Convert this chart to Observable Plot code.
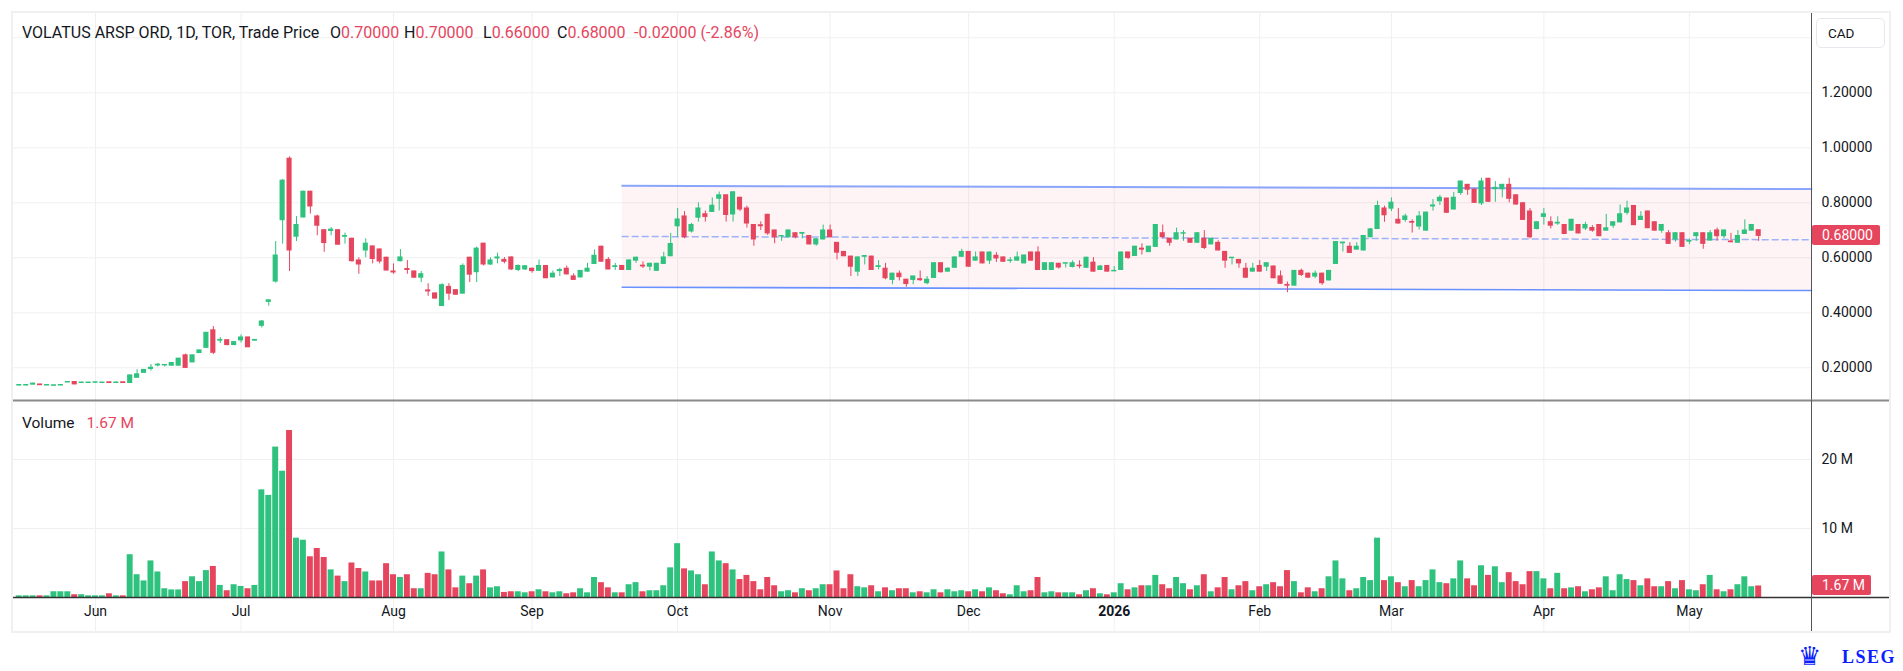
<!DOCTYPE html>
<html>
<head>
<meta charset="utf-8">
<script src="https://cdn.jsdelivr.net/npm/d3@7"></script>
<script src="https://cdn.jsdelivr.net/npm/@observablehq/plot@0.6"></script>
<style>
  html, body { margin: 0; padding: 0; background: #fff; }
  #wrap { position: relative; width: 1903px; height: 671px; overflow: hidden; font-family: Roboto, "Noto Sans", sans-serif; color: #131722; }
  .abs { position: absolute; white-space: pre; font-size: 14px; line-height: 18px; }
  .red { color: #e6455e; }
  #frame { position: absolute; left: 11px; top: 11px; width: 1876px; height: 618px; border: 2px solid #f0f0f0; pointer-events: none; z-index: 3; }
  .lbl { position: absolute; height: 20px; line-height: 20px; background: #e6455e; color: #fff; font-size: 14px; padding-left: 10px; box-sizing: border-box; border-radius: 2px; z-index: 4; }
  #cad { position: absolute; left: 1816px; top: 18px; width: 69px; height: 30px; border: 1px solid #e6e8ee; border-radius: 5px; box-sizing: border-box; z-index: 4; }
  svg { max-width: none !important; }
</style>
</head>
<body>
<div id="wrap"></div>
<script>
// ---------- data ----------
const openP = [
0.136,0.136,0.139,0.139,0.136,0.135,0.136,0.147,0.148,0.145,
0.145,0.146,0.145,0.147,0.145,0.147,0.145,0.164,0.182,0.196,
0.209,0.209,0.208,0.208,0.245,0.220,0.254,0.273,0.336,0.299,
0.300,0.283,0.300,0.310,0.299,0.353,0.440,0.514,0.737,0.960,
0.677,0.747,0.840,0.750,0.700,0.698,0.700,0.677,0.669,0.590,
0.627,0.641,0.630,0.600,0.550,0.588,0.559,0.550,0.528,0.481,
0.470,0.425,0.494,0.482,0.470,0.600,0.548,0.651,0.576,0.598,
0.592,0.601,0.556,0.558,0.560,0.553,0.570,0.529,0.552,0.560,
0.532,0.529,0.550,0.578,0.640,0.592,0.567,0.570,0.556,0.590,
0.571,0.568,0.553,0.578,0.606,0.715,0.750,0.696,0.746,0.758,
0.767,0.815,0.827,0.758,0.818,0.779,0.719,0.718,0.756,0.699,
0.678,0.675,0.689,0.688,0.679,0.649,0.667,0.699,0.654,0.621,
0.604,0.550,0.604,0.604,0.567,0.560,0.520,0.542,0.520,0.520,
0.522,0.508,0.527,0.580,0.550,0.564,0.604,0.621,0.590,0.619,
0.590,0.607,0.601,0.589,0.590,0.580,0.619,0.619,0.556,0.556,
0.578,0.579,0.567,0.571,0.564,0.582,0.556,0.570,0.551,0.556,
0.619,0.607,0.633,0.621,0.640,0.689,0.669,0.667,0.688,0.669,
0.655,0.669,0.649,0.654,0.621,0.599,0.592,0.560,0.550,0.570,
0.568,0.568,0.532,0.501,0.499,0.552,0.542,0.532,0.542,0.518,
0.578,0.653,0.640,0.630,0.627,0.675,0.705,0.779,0.779,0.738,
0.738,0.730,0.714,0.699,0.787,0.806,0.815,0.776,0.836,0.865,
0.848,0.798,0.887,0.850,0.850,0.865,0.827,0.798,0.768,0.705,
0.749,0.729,0.725,0.719,0.699,0.719,0.707,0.708,0.719,0.699,
0.717,0.729,0.764,0.788,0.738,0.768,0.729,0.699,0.689,0.667,
0.689,0.659,0.679,0.689,0.663,0.699,0.679,0.659,0.655,0.687,
0.699,0.700];
const highP = [
0.138,0.138,0.145,0.140,0.138,0.137,0.138,0.149,0.149,0.148,
0.147,0.147,0.147,0.148,0.149,0.148,0.173,0.193,0.193,0.212,
0.216,0.212,0.218,0.234,0.250,0.246,0.264,0.328,0.350,0.310,
0.302,0.294,0.320,0.312,0.302,0.372,0.447,0.659,0.885,0.967,
0.750,0.842,0.842,0.755,0.702,0.710,0.702,0.690,0.671,0.600,
0.669,0.643,0.632,0.602,0.578,0.630,0.590,0.552,0.550,0.506,
0.472,0.506,0.506,0.484,0.578,0.602,0.639,0.653,0.600,0.617,
0.601,0.603,0.574,0.572,0.562,0.592,0.572,0.552,0.562,0.570,
0.542,0.554,0.580,0.628,0.642,0.601,0.580,0.572,0.592,0.602,
0.585,0.580,0.580,0.620,0.689,0.779,0.768,0.725,0.800,0.770,
0.818,0.839,0.829,0.840,0.820,0.788,0.721,0.731,0.758,0.701,
0.680,0.701,0.691,0.690,0.681,0.669,0.719,0.719,0.656,0.623,
0.606,0.603,0.608,0.606,0.590,0.580,0.544,0.552,0.522,0.532,
0.552,0.532,0.582,0.582,0.564,0.603,0.631,0.623,0.621,0.621,
0.621,0.619,0.603,0.601,0.621,0.610,0.621,0.640,0.582,0.582,
0.580,0.581,0.589,0.589,0.602,0.601,0.572,0.572,0.568,0.621,
0.621,0.642,0.651,0.642,0.721,0.719,0.671,0.708,0.699,0.671,
0.691,0.699,0.671,0.662,0.623,0.601,0.594,0.580,0.580,0.590,
0.582,0.570,0.552,0.512,0.554,0.559,0.544,0.552,0.544,0.554,
0.659,0.657,0.655,0.655,0.681,0.707,0.806,0.788,0.818,0.779,
0.759,0.738,0.768,0.766,0.812,0.827,0.817,0.838,0.879,0.867,
0.850,0.889,0.889,0.877,0.867,0.889,0.829,0.800,0.779,0.731,
0.779,0.749,0.749,0.721,0.740,0.721,0.729,0.717,0.721,0.758,
0.731,0.792,0.806,0.790,0.768,0.770,0.731,0.721,0.699,0.691,
0.691,0.669,0.691,0.691,0.699,0.708,0.701,0.689,0.699,0.738,
0.721,0.700];
const lowP = [
0.134,0.134,0.138,0.136,0.135,0.134,0.135,0.146,0.138,0.144,
0.144,0.143,0.144,0.144,0.145,0.144,0.144,0.162,0.180,0.188,
0.203,0.203,0.206,0.207,0.198,0.219,0.253,0.270,0.248,0.288,
0.280,0.282,0.290,0.273,0.298,0.345,0.424,0.508,0.650,0.550,
0.659,0.745,0.759,0.680,0.620,0.680,0.646,0.650,0.584,0.540,
0.600,0.578,0.578,0.552,0.540,0.585,0.540,0.526,0.510,0.460,
0.450,0.423,0.445,0.464,0.468,0.510,0.510,0.570,0.572,0.578,
0.578,0.554,0.550,0.554,0.544,0.551,0.524,0.527,0.532,0.538,
0.518,0.527,0.548,0.576,0.584,0.556,0.554,0.554,0.554,0.580,
0.561,0.552,0.551,0.576,0.604,0.675,0.669,0.690,0.730,0.730,
0.765,0.770,0.730,0.730,0.768,0.708,0.642,0.699,0.681,0.651,
0.660,0.673,0.669,0.669,0.647,0.642,0.665,0.673,0.592,0.604,
0.532,0.532,0.574,0.554,0.556,0.520,0.502,0.516,0.493,0.502,
0.514,0.502,0.525,0.544,0.548,0.562,0.602,0.566,0.588,0.578,
0.576,0.583,0.584,0.580,0.588,0.578,0.588,0.554,0.554,0.554,
0.559,0.563,0.563,0.560,0.562,0.548,0.554,0.548,0.550,0.554,
0.594,0.605,0.610,0.619,0.638,0.669,0.642,0.665,0.660,0.653,
0.653,0.630,0.647,0.625,0.562,0.574,0.562,0.526,0.548,0.548,
0.550,0.524,0.504,0.473,0.497,0.532,0.526,0.524,0.500,0.516,
0.576,0.621,0.616,0.628,0.625,0.673,0.703,0.729,0.768,0.723,
0.729,0.690,0.701,0.697,0.770,0.790,0.762,0.774,0.827,0.827,
0.798,0.790,0.802,0.802,0.818,0.800,0.792,0.736,0.669,0.701,
0.719,0.705,0.718,0.685,0.697,0.687,0.699,0.693,0.677,0.697,
0.707,0.727,0.755,0.717,0.736,0.706,0.697,0.689,0.649,0.657,
0.638,0.648,0.660,0.631,0.661,0.660,0.669,0.655,0.653,0.685,
0.697,0.660];
const closeP = [
0.137,0.137,0.142,0.137,0.137,0.136,0.137,0.148,0.140,0.146,
0.146,0.147,0.146,0.145,0.146,0.145,0.172,0.176,0.192,0.200,
0.211,0.210,0.217,0.233,0.200,0.245,0.263,0.327,0.255,0.301,
0.283,0.293,0.310,0.275,0.301,0.368,0.445,0.608,0.880,0.627,
0.719,0.840,0.787,0.717,0.654,0.702,0.648,0.679,0.588,0.576,
0.651,0.596,0.587,0.554,0.547,0.601,0.556,0.528,0.540,0.478,
0.452,0.500,0.470,0.466,0.570,0.539,0.633,0.576,0.590,0.601,
0.586,0.558,0.570,0.569,0.552,0.570,0.526,0.542,0.555,0.540,
0.520,0.552,0.560,0.607,0.586,0.558,0.569,0.556,0.590,0.600,
0.569,0.578,0.578,0.601,0.650,0.739,0.675,0.719,0.779,0.749,
0.789,0.827,0.756,0.838,0.776,0.725,0.667,0.715,0.689,0.675,
0.679,0.699,0.675,0.690,0.649,0.667,0.699,0.675,0.619,0.606,
0.568,0.601,0.606,0.556,0.569,0.526,0.542,0.530,0.505,0.532,
0.519,0.520,0.580,0.548,0.560,0.601,0.621,0.568,0.601,0.580,
0.619,0.598,0.586,0.590,0.601,0.608,0.590,0.556,0.580,0.580,
0.565,0.580,0.580,0.570,0.600,0.550,0.568,0.550,0.552,0.619,
0.600,0.640,0.630,0.640,0.719,0.675,0.655,0.689,0.689,0.655,
0.689,0.636,0.669,0.627,0.590,0.600,0.580,0.528,0.560,0.550,
0.580,0.526,0.506,0.499,0.552,0.538,0.528,0.542,0.508,0.552,
0.657,0.655,0.618,0.640,0.679,0.703,0.788,0.755,0.800,0.725,
0.750,0.728,0.750,0.764,0.790,0.818,0.764,0.818,0.877,0.848,
0.800,0.877,0.804,0.854,0.865,0.815,0.794,0.738,0.675,0.729,
0.758,0.717,0.727,0.687,0.738,0.689,0.719,0.699,0.679,0.707,
0.729,0.758,0.779,0.719,0.749,0.708,0.699,0.719,0.651,0.689,
0.640,0.661,0.689,0.651,0.689,0.679,0.699,0.657,0.679,0.699,
0.719,0.680];
const volumeM = [
0.24,0.24,0.24,0.24,0.24,0.83,0.83,0.83,0.40,0.40,
0.24,0.24,0.24,0.54,0.24,0.24,6.2,3.3,2.4,5.3,
3.7,1.27,1.1,1.1,2.3,3.0,2.3,3.9,4.5,1.75,
0.98,1.85,1.6,1.27,1.75,15.6,14.8,21.8,18.3,24.2,
8.6,8.3,5.9,7.1,5.8,4.0,3.1,2.3,5.0,4.2,
3.7,2.4,2.4,4.9,3.3,2.9,3.3,1.27,1.27,3.5,
3.3,6.6,4.0,1.4,3.1,2.0,3.1,4.0,1.4,1.56,
0.73,0.83,0.83,0.68,0.83,1.12,0.83,0.68,0.83,0.54,
0.68,1.27,0.68,2.9,2.15,1.4,0.68,0.68,1.85,2.15,
0.83,0.98,0.98,1.7,4.3,7.8,4.15,3.85,3.3,1.85,
6.6,5.3,4.9,4.0,2.6,3.2,2.3,1.12,2.9,1.7,
0.83,0.98,0.68,1.27,0.98,1.27,1.85,1.85,3.85,1.27,
3.3,1.56,1.4,1.7,0.83,1.4,0.98,1.27,1.27,0.68,
0.83,0.68,1.12,0.68,1.12,0.83,0.98,0.83,1.12,0.83,
1.4,0.98,0.54,0.39,1.7,0.83,0.98,2.9,0.68,0.83,
0.68,0.68,0.68,0.39,0.98,1.27,0.54,0.39,0.68,2.0,
1.12,1.4,1.7,1.7,3.2,1.85,1.27,2.9,2.0,1.12,
1.7,3.3,0.83,1.4,2.9,1.12,1.7,2.3,0.98,1.56,
1.85,2.15,1.56,3.9,2.3,0.68,1.4,0.83,1.27,3.0,
5.3,2.7,0.98,1.27,2.9,2.45,8.6,2.45,3.0,2.15,
1.56,2.45,1.56,2.45,4.0,2.15,2.0,2.7,5.3,2.7,
1.7,4.6,3.2,4.45,2.15,3.6,2.3,1.85,3.75,3.75,
2.7,1.27,3.5,1.27,1.4,1.56,0.83,1.12,1.4,3.0,
0.98,3.3,2.6,2.45,1.7,2.7,1.56,1.56,2.3,1.27,
2.45,1.12,0.98,1.85,3.2,1.12,0.83,1.12,1.85,3.0,
1.56,1.67];

const monthTickIndex = [11, 32, 54, 74, 95, 117, 137, 158, 179, 198, 220, 241];
const monthTickLabel = ["Jun", "Jul", "Aug", "Sep", "Oct", "Nov", "Dec", "2026", "Feb", "Mar", "Apr", "May"];
const priceTicks = [0.2, 0.4, 0.6, 0.8, 1.0, 1.2];
const priceGridLevels = [0.2, 0.4, 0.6, 0.8, 1.0, 1.2, 1.4];
const volumeTicks = [10, 20];
const channelIndex = [87, 258.62];
const channelTop = [0.862, 0.850];
const channelBottom = [0.493, 0.481];

// ---------- build ----------
const GREEN = "#2ec27e", RED = "#e6455e", GRID = "#f0f0f0";
const candles = openP.map((o, i) => ({
  i, open: o, high: highP[i], low: lowP[i], close: closeP[i], vol: volumeM[i],
  color: closeP[i] >= o ? GREEN : RED
}));
const channel = channelIndex.map((x, k) => ({
  i: x, top: channelTop[k], bottom: channelBottom[k], mid: (channelTop[k] + channelBottom[k]) / 2
}));
const months = monthTickIndex.map((x, k) => ({ i: x, label: monthTickLabel[k] }));
const xDomain = [-0.98, 258.62];
const W = 1903;
const common = {
  width: W, marginLeft: 12, marginRight: 92,
  x: { domain: xDomain, axis: null, label: null },
  color: { type: "identity" },
  style: { background: "transparent", overflow: "visible", fontFamily: "Roboto, sans-serif", fontSize: "14px", color: "#131722" }
};

const pricePlot = Plot.plot({
  ...common,
  height: 400, marginTop: 12, marginBottom: 0,
  y: { domain: [0.0811, 1.492], axis: null, label: null },
  marks: [
    Plot.ruleY(priceGridLevels, { stroke: GRID, strokeWidth: 1 }),
    Plot.ruleX(monthTickIndex, { stroke: GRID, strokeWidth: 1 }),
    Plot.areaY(channel, { x: "i", y1: "bottom", y2: "top", fill: "#f23645", fillOpacity: 0.055 }),
    Plot.line(channel, { x: "i", y: "top", stroke: "#2962ff", strokeOpacity: 0.55, strokeWidth: 2 }),
    Plot.line(channel, { x: "i", y: "bottom", stroke: "#2962ff", strokeOpacity: 0.7, strokeWidth: 1.6 }),
    Plot.line(channel, { x: "i", y: "mid", stroke: "#2962ff", strokeOpacity: 0.45, strokeWidth: 1.5, strokeDasharray: "6,4" }),
    Plot.ruleX(candles, { x: "i", y1: "low", y2: "high", stroke: "color", strokeWidth: 1 }),
    Plot.rect(candles, { x1: d => d.i - 0.37, x2: d => d.i + 0.37, y1: "open", y2: "close", fill: "color", insetTop: -0.6, insetBottom: -0.6 }),
    Plot.ruleX([xDomain[1]], { stroke: "#555", strokeWidth: 1 }),
    Plot.axisY(priceTicks, { anchor: "right", label: null, tickSize: 0, tickPadding: 10, tickFormat: d => d.toFixed(5), fontSize: 14, fill: "#131722" })
  ]
});

const volMax = 28.55;
const volumePlot = Plot.plot({
  ...common,
  height: 271, marginTop: 0, marginBottom: 74,
  y: { domain: [0, volMax], axis: null, label: null },
  marks: [
    Plot.ruleY(volumeTicks, { stroke: GRID, strokeWidth: 1 }),
    Plot.ruleX(monthTickIndex, { stroke: GRID, strokeWidth: 1, insetBottom: -34 }),
    Plot.rect(candles, { x1: d => d.i - 0.43, x2: d => d.i + 0.43, y1: 0, y2: "vol", fill: "color" }),
    Plot.ruleY([0], { stroke: "#333", strokeWidth: 1.5, insetRight: -79, insetLeft: -1 }),
    Plot.ruleY([volMax], { stroke: "#8a8a8a", strokeWidth: 2.2, insetRight: -79, insetLeft: -1 }),
    Plot.ruleX([xDomain[1]], { stroke: "#555", strokeWidth: 1, insetBottom: -34 }),
    Plot.axisY(volumeTicks, { anchor: "right", label: null, tickSize: 0, tickPadding: 10, tickFormat: d => d + " M", fontSize: 14, fill: "#131722" }),
    Plot.text(months.filter(d => d.label !== "2026"), { x: "i", text: "label", frameAnchor: "bottom", dy: 18, fontSize: 14, fill: "#131722" }),
    Plot.text(months.filter(d => d.label === "2026"), { x: "i", text: "label", frameAnchor: "bottom", dy: 18, fontSize: 14, fontWeight: "bold", fill: "#131722" })
  ]
});

const wrap = document.getElementById("wrap");
pricePlot.style.position = "absolute"; pricePlot.style.left = "0px"; pricePlot.style.top = "0px";
volumePlot.style.position = "absolute"; volumePlot.style.left = "0px"; volumePlot.style.top = "400px";
wrap.appendChild(pricePlot);
wrap.appendChild(volumePlot);

function addDiv(cls, left, top, html, extra) {
  const d = document.createElement("div");
  d.className = cls; d.style.left = left + "px"; d.style.top = top + "px";
  d.style.zIndex = 5;
  d.innerHTML = html;
  if (extra) Object.assign(d.style, extra);
  wrap.appendChild(d);
  return d;
}
const frame = document.createElement("div"); frame.id = "frame"; wrap.appendChild(frame);

// header legend
const last = candles[candles.length - 1];
const H = { fontSize: "16px", lineHeight: "20px" };
addDiv("abs", 22, 23, "VOLATUS ARSP ORD, 1D, TOR, Trade Price", H);
addDiv("abs", 330, 23, 'O<span class="red">' + last.open.toFixed(5) + '</span>', H);
addDiv("abs", 404, 23, 'H<span class="red">' + last.high.toFixed(5) + '</span>', H);
addDiv("abs", 483, 23, 'L<span class="red">' + last.low.toFixed(5) + '</span>', H);
addDiv("abs", 557, 23, 'C<span class="red">' + last.close.toFixed(5) + '</span>', H);
addDiv("abs red", 634, 23, "-0.02000 (-2.86%)", H);
addDiv("abs", 22, 413, 'Volume<span class="red" style="margin-left:12px">' + last.vol.toFixed(2) + ' M</span>', { fontSize: "15.5px", lineHeight: "20px" });

// CAD button
const cad = document.createElement("div"); cad.id = "cad"; wrap.appendChild(cad);
addDiv("abs", 1828, 24, "CAD", { fontSize: "13.5px" });

// last price / last volume labels, placed with the plots' own scales
const py = pricePlot.scale("y").apply(last.close);
addDiv("lbl", 1812, py - 10, last.close.toFixed(5), { width: "68px" });
const vy = volumePlot.scale("y").apply(last.vol) + 400;
addDiv("lbl", 1812, vy - 10, last.vol.toFixed(2) + " M", { width: "59px" });

// LSEG mark
addDiv("abs", 1842, 646, "LSEG", { color: "#0a1eff", fontWeight: "bold", fontFamily: "'Liberation Serif', serif", fontSize: "18px", letterSpacing: "1.5px", lineHeight: "22px" });
addDiv("abs", 1798, 643, "&#x265B;", { color: "#0a1eff", fontSize: "26px", lineHeight: "26px" });
</script>
</body>
</html>
